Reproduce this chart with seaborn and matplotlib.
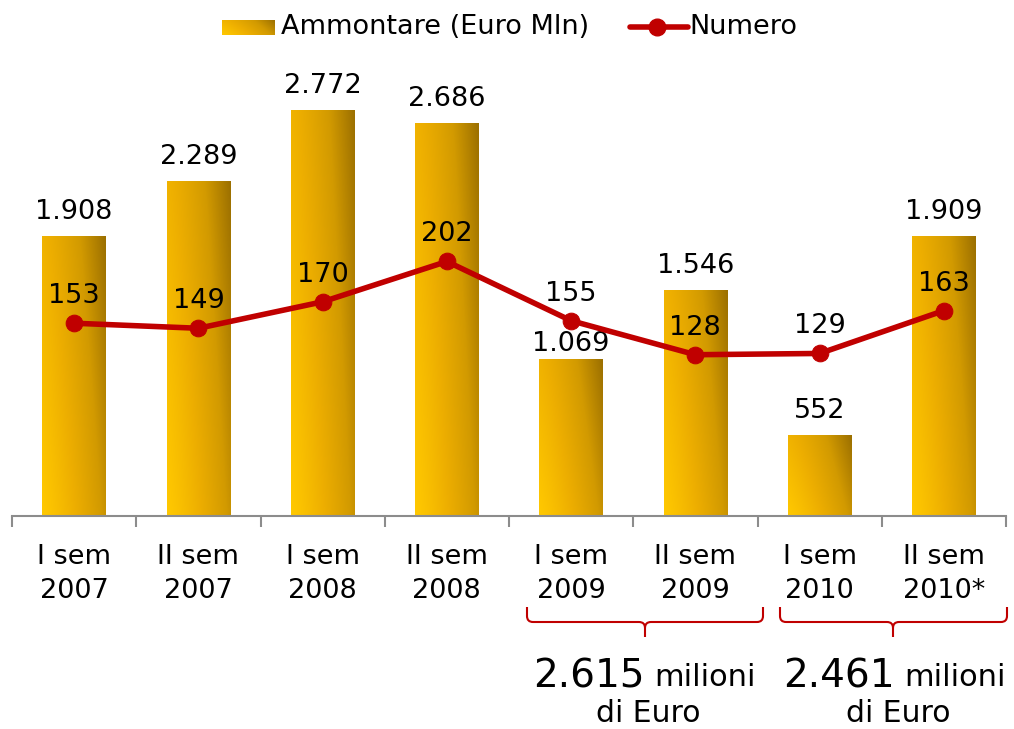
import numpy as np
import pandas as pd
import matplotlib
matplotlib.use("Agg")
import matplotlib.pyplot as plt
import seaborn as sns
from matplotlib.colors import LinearSegmentedColormap
from matplotlib.path import Path
from matplotlib.patches import PathPatch
from matplotlib.lines import Line2D

# data
periods = ["I sem\n2007", "II sem\n2007", "I sem\n2008", "II sem\n2008",
           "I sem\n2009", "II sem\n2009", "I sem\n2010", "II sem\n2010*"]
ammontare = [1908, 2289, 2772, 2686, 1069, 1546, 552, 1909]
numero = [153, 149, 170, 202, 155, 128, 129, 163]
ammontare_labels = ["1.908", "2.289", "2.772", "2.686", "1.069", "1.546", "552", "1.909"]
totals = ["2.615", "2.461"]

sns.set_theme(style="white")
plt.rcParams['font.family'] = ['DejaVu Sans']
plt.rcParams['text.color'] = 'black'

FS = 19.5
W, H = 1014, 729
fig = plt.figure(figsize=(W / 100, H / 100), dpi=100)
ax = fig.add_axes([12 / W, (H - 516) / H, (1006 - 12) / W, (516 - 50) / H])

df = pd.DataFrame({"periodo": periods, "ammontare": ammontare})
sns.barplot(data=df, x="periodo", y="ammontare", width=0.51, color="#E8AA00",
            ax=ax, zorder=2)

gold = LinearSegmentedColormap.from_list("gold", ["#FFC800", "#EDAE00", "#D29A00", "#9C7000"])
u = np.linspace(0, 1, 64)
gx, gy = np.meshgrid(u, u)
grad = np.clip(0.72 * gx ** 1.2 + 0.28 * gy, 0, 1)

for p in ax.patches:
    x0, w, h = p.get_x(), p.get_width(), p.get_height()
    p.set_facecolor("none")
    p.set_edgecolor("none")
    im = ax.imshow(grad, cmap=gold, extent=[x0, x0 + w, 0, h], origin="lower",
                   aspect="auto", zorder=2, interpolation="bilinear")
    im.set_clip_path(p)

ax.set_xlim(-0.5, len(periods) - 0.5)
ax.set_ylim(0, 466 / 0.1465)

# the 1.069 label sits closer to its bar to stay clear of the line
label_offsets = [24, 24, 24, 24, 15, 24, 24, 24]
for i, (v, lab) in enumerate(zip(ammontare, ammontare_labels)):
    ax.annotate(lab, (i, v), xytext=(0, label_offsets[i]), textcoords="offset pixels",
                ha="center", va="center", fontsize=FS, color="black")

# axis styling
for s in ["top", "right", "left"]:
    ax.spines[s].set_visible(False)
ax.spines["bottom"].set_color("#8C8C8C")
ax.spines["bottom"].set_linewidth(1.5)
ax.set_yticks([])
ax.set_xlabel("")
ax.set_ylabel("")
ax.set_xticks(range(len(periods)))
ax.set_xticklabels(periods, fontsize=FS, linespacing=1.42, color="black")
ax.tick_params(axis="x", which="major", length=0, pad=20)
ax.set_xticks(np.arange(-0.5, len(periods), 1.0), minor=True)
ax.tick_params(axis="x", which="minor", bottom=True, length=8, width=1.5,
               color="#8C8C8C", direction="out")

# line on secondary axis
ax2 = ax.twinx()
sns.lineplot(x=list(range(len(numero))), y=numero, ax=ax2, color="#C00000",
             linewidth=4, marker="o", markersize=12, markeredgecolor="#C00000", zorder=5)
ax2.set_ylim(0, 466 / 1.26)
ax2.set_xlim(-0.5, len(periods) - 0.5)
ax2.set_yticks([])
ax2.set_ylabel("")
for s in ax2.spines.values():
    s.set_visible(False)
for i, v in enumerate(numero):
    ax2.annotate(str(v), (i, v), xytext=(0, 27), textcoords="offset pixels",
                 ha="center", va="center", fontsize=FS, color="black")

# legend drawn by hand at the top
lax = fig.add_axes([222 / W, (H - 35) / H, 53 / W, 15 / H])
lax.imshow(grad, cmap=gold, aspect="auto", origin="lower")
lax.axis("off")
fig.text(281 / W, (H - 27) / H, "Ammontare (Euro Mln)", fontsize=FS, va="center", ha="left")
fig.add_artist(Line2D([630 / W, 688 / W], [(H - 27) / H] * 2, color="#C00000", linewidth=4,
                      transform=fig.transFigure))
fig.add_artist(Line2D([657 / W], [(H - 27) / H], color="#C00000", marker="o", markersize=12,
                      transform=fig.transFigure))
fig.text(689 / W, (H - 27) / H, "Numero", fontsize=FS, va="center", ha="left")


# braces under the last two years
def brace(xl, xr, xm):
    yt, ym, yb = (H - 607) / H, (H - 622) / H, (H - 637) / H
    r = 6 / W
    ry = 6 / H
    verts = [(xl, yt), (xl, ym + ry), (xl, ym), (xl + r, ym),
             (xm - r, ym), (xm, ym), (xm, ym - ry), (xm, yb),
             (xm, ym - ry), (xm, ym), (xm + r, ym),
             (xr - r, ym), (xr, ym), (xr, ym + ry), (xr, yt)]
    codes = [Path.MOVETO, Path.LINETO, Path.CURVE3, Path.CURVE3,
             Path.LINETO, Path.CURVE3, Path.CURVE3, Path.LINETO,
             Path.MOVETO, Path.CURVE3, Path.CURVE3,
             Path.LINETO, Path.CURVE3, Path.CURVE3, Path.LINETO]
    fig.add_artist(PathPatch(Path(verts, codes), facecolor="none", edgecolor="#C00000",
                             linewidth=1.5, transform=fig.transFigure))


brace(527 / W, 763 / W, 645 / W)
brace(780 / W, 1007 / W, 893 / W)

for tot, split, center in zip(totals, [647, 897], [648, 898]):
    fig.text((split - 2) / W, (H - 676) / H, tot, fontsize=28, ha="right", va="center")
    fig.text((split + 7) / W, (H - 677) / H, "milioni", fontsize=22, ha="left", va="center")
    fig.text(center / W, (H - 713) / H, "di Euro", fontsize=21.5, ha="center", va="center")

fig.savefig("out.png", dpi=100)
